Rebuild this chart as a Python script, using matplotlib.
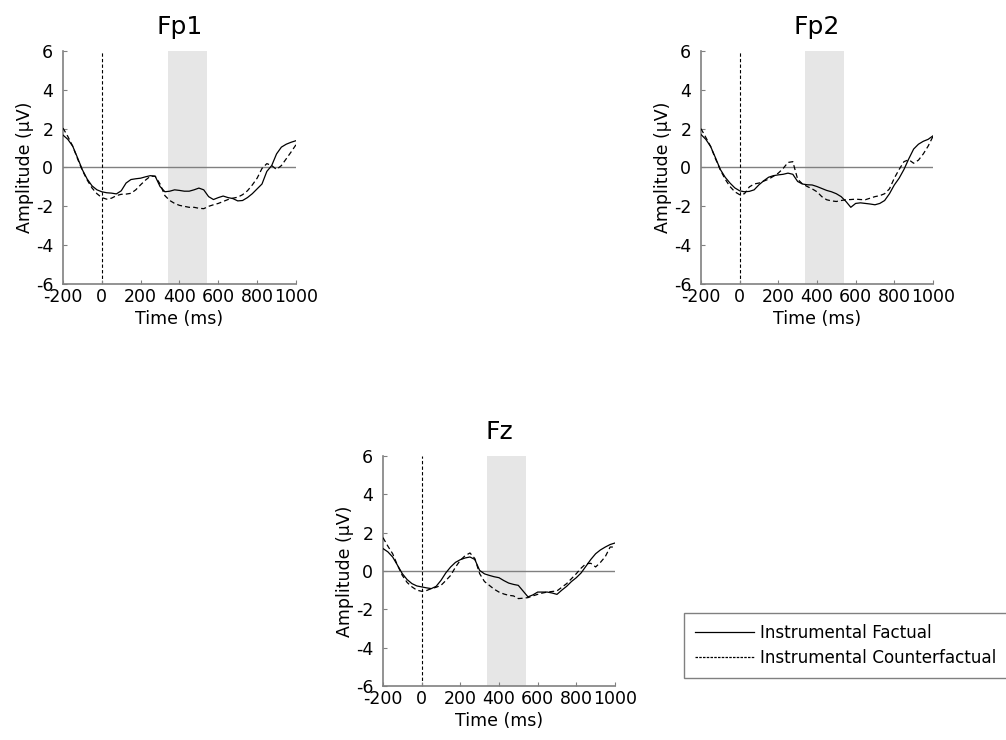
import numpy as np
import matplotlib
matplotlib.use('Agg')
import matplotlib.pyplot as plt

plt.rcParams['font.family'] = ['DejaVu Sans']
plt.rcParams['axes.unicode_minus'] = False

# time axis (ms), sampled every 25 ms
time_ms = list(range(-200, 1001, 25))

# amplitudes (uV)
fp1_factual = [1.67, 1.45, 1.1, 0.5, -0.12, -0.6, -0.95, -1.15, -1.25, -1.3, -1.32, -1.36, -1.2,
               -0.8, -0.62, -0.58, -0.55, -0.48, -0.42, -0.45, -0.98, -1.25, -1.22, -1.15, -1.18,
               -1.22, -1.22, -1.15, -1.06, -1.15, -1.5, -1.65, -1.55, -1.47, -1.55, -1.6, -1.72,
               -1.7, -1.55, -1.35, -1.1, -0.85, -0.2, 0.1, 0.7, 1.05, 1.2, 1.3, 1.38]
fp1_counter = [2.03, 1.6, 1.1, 0.45, -0.15, -0.65, -1.06, -1.35, -1.55, -1.63, -1.58, -1.45, -1.38,
               -1.37, -1.33, -1.15, -0.89, -0.65, -0.45, -0.45, -0.85, -1.45, -1.7, -1.85, -1.95,
               -2.0, -2.05, -2.05, -2.1, -2.12, -2.0, -1.92, -1.85, -1.75, -1.65, -1.58, -1.53,
               -1.4, -1.2, -0.9, -0.55, -0.05, 0.2, 0.1, -0.1, 0.1, 0.45, 0.8, 1.17]

fp2_factual = [1.7, 1.45, 1.08, 0.5, -0.1, -0.5, -0.8, -1.05, -1.2, -1.25, -1.23, -1.15, -0.89,
               -0.68, -0.5, -0.42, -0.38, -0.35, -0.29, -0.35, -0.72, -0.85, -0.89, -0.9, -0.98,
               -1.08, -1.18, -1.25, -1.35, -1.5, -1.75, -2.05, -1.85, -1.82, -1.85, -1.88, -1.92,
               -1.85, -1.7, -1.35, -0.9, -0.55, -0.1, 0.45, 0.95, 1.2, 1.35, 1.45, 1.63]
fp2_counter = [2.0, 1.55, 1.08, 0.45, -0.12, -0.6, -0.98, -1.25, -1.4, -1.35, -1.0, -0.85, -0.8,
               -0.7, -0.6, -0.45, -0.29, -0.05, 0.26, 0.3, -0.6, -0.85, -0.98, -1.1, -1.25,
               -1.5, -1.66, -1.72, -1.75, -1.7, -1.66, -1.65, -1.63, -1.65, -1.66, -1.58, -1.5,
               -1.45, -1.35, -1.1, -0.55, -0.1, 0.3, 0.4, 0.22, 0.38, 0.7, 1.1, 1.6]

fz_factual = [1.17, 1.0, 0.73, 0.3, -0.14, -0.45, -0.66, -0.78, -0.83, -0.88, -0.92, -0.8, -0.49,
              -0.1, 0.21, 0.45, 0.59, 0.68, 0.73, 0.6, 0.03, -0.15, -0.23, -0.3, -0.35,
              -0.5, -0.63, -0.7, -0.75, -1.05, -1.35, -1.25, -1.1, -1.1, -1.1, -1.15, -1.22,
              -1.0, -0.8, -0.55, -0.35, -0.1, 0.25, 0.6, 0.9, 1.1, 1.25, 1.38, 1.46]
fz_counter = [1.74, 1.3, 0.9, 0.3, -0.23, -0.6, -0.83, -1.0, -1.06, -1.02, -0.92, -0.85, -0.75,
              -0.5, -0.23, 0.2, 0.56, 0.8, 0.94, 0.65, -0.14, -0.55, -0.75, -0.95, -1.1,
              -1.2, -1.27, -1.3, -1.44, -1.42, -1.39, -1.3, -1.22, -1.15, -1.1, -1.07, -1.04,
              -0.85, -0.66, -0.4, -0.14, 0.15, 0.38, 0.4, 0.21, 0.45, 0.75, 1.25, 1.25]

window = [340, 540]
xticks = [-200, 0, 200, 400, 600, 800, 1000]
xticklabels = ['-200', '0', '200', '400', '600', '800', '1000']
yticks = [-6, -4, -2, 0, 2, 4, 6]
yticklabels = ['-6', '-4', '-2', '0', '2', '4', '6']
legend_labels = ['Instrumental Factual', 'Instrumental Counterfactual']

gray = '#808080'
dash = (0, (4, 2.5))
fs = 12.5

fig = plt.figure(figsize=(10.06, 7.4), dpi=100)

# axes positions in figure fractions
panels = [
    ('Fp1', [0.0626, 0.6162, 0.2316, 0.3149], fp1_factual, fp1_counter),
    ('Fp2', [0.6968, 0.6162, 0.2306, 0.3149], fp2_factual, fp2_counter),
    ('Fz', [0.3807, 0.0730, 0.2306, 0.3108], fz_factual, fz_counter),
]

for name, pos, fact, cf in panels:
    ax = fig.add_axes(pos)
    ax.axvspan(window[0], window[1], color='#e6e6e6', lw=0, zorder=0)
    ax.axhline(0, color=gray, lw=1.0, zorder=1)
    ax.axvline(0, color='black', lw=0.8, ls=(0, (3, 2)), zorder=1)
    l1, = ax.plot(time_ms, fact, color='black', lw=0.9, zorder=3)
    l2, = ax.plot(time_ms, cf, color='black', lw=0.9, ls=dash, zorder=3)
    ax.set_xlim(-200, 1000)
    ax.set_ylim(-6, 6)
    ax.set_xticks(xticks)
    ax.set_xticklabels(xticklabels)
    ax.set_yticks(yticks)
    ax.set_yticklabels(yticklabels)
    ax.tick_params(direction='in', length=3, color=gray, labelsize=fs)
    ax.tick_params(axis='y', pad=7)
    ax.tick_params(axis='x', pad=3)
    for s in ['top', 'right']:
        ax.spines[s].set_visible(False)
    for s in ['left', 'bottom']:
        ax.spines[s].set_color(gray)
        ax.spines[s].set_linewidth(1.2)
    ax.set_title(name, fontsize=18, pad=12)
    ax.set_xlabel('Time (ms)', fontsize=fs, labelpad=3)
    ax.set_ylabel('Amplitude (\u00b5V)', fontsize=fs, labelpad=1)

# legend box runs off the right edge, as in the original figure
leg = fig.legend([l1, l2], legend_labels, loc='upper left',
                 bbox_to_anchor=(684 / 1006, 1 - 613 / 740), borderaxespad=0,
                 fontsize=12.1, handlelength=3.5, handletextpad=0.35, borderpad=0.65,
                 labelspacing=0.4, fancybox=False, framealpha=1)
leg.get_frame().set_edgecolor(gray)
leg.get_frame().set_linewidth(1.0)
leg.get_lines()[1].set_linestyle((0, (2, 1)))

plt.savefig('out.png', dpi=100)
